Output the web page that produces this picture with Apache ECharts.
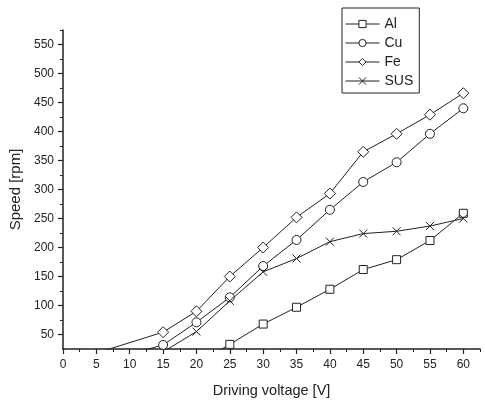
<!DOCTYPE html>
<html>
<head>
<meta charset="utf-8">
<script src="https://cdn.jsdelivr.net/npm/echarts@6/dist/echarts.min.js"></script>
<style>
  html, body { margin: 0; padding: 0; background: #fff; }
  #chart { width: 485px; height: 403px; }
</style>
</head>
<body>
<div id="chart"></div>
<script>
// driving voltage [V] and speed [rpm]
// null = no point at that voltage
const voltage = [0, 5, 10, 15, 20, 25, 30, 35, 40, 45, 50, 55, 60]
const alSpeed = [null, null, null, null, 0, 33, 68, 97, 128, 162, 179, 212, 259]
const cuSpeed = [null, 0, null, 32, 71, 114, 168, 213, 265, 313, 347, 396, 440]
const feSpeed = [0, null, null, 54, 90, 150, 200, 252, 293, 365, 396, 429, 466]
const susSpeed = [null, null, null, 20, 55, 108, 158, 181, 210, 224, 228, 237, 250]

const xMajor = [0, 5, 10, 15, 20, 25, 30, 35, 40, 45, 50, 55, 60]
const xMinor = [2.5, 7.5, 12.5, 17.5, 22.5, 27.5, 32.5, 37.5, 42.5, 47.5, 52.5, 57.5, 62.5]
const yMajor = [50, 100, 150, 200, 250, 300, 350, 400, 450, 500, 550]
const yMinor = [75, 125, 175, 225, 275, 325, 375, 425, 475, 525, 575]

const ink = "#222"
const font = "'Liberation Sans', Arial, sans-serif"

const toPairs = (arr) => voltage.map((v, i) => [v, arr[i]]).filter(p => p[1] !== null)

const makeSeries = (name, arr, symbol, size) => ({
  name: name,
  type: "line",
  data: toPairs(arr),
  symbol: symbol,
  symbolSize: size,
  showAllSymbol: true,
  clip: true,
  lineStyle: { color: ink, width: 1 },
  itemStyle: { color: "#fff", borderColor: ink, borderWidth: 1 },
  emphasis: { disabled: true }
})

const myChart = echarts.init(document.getElementById("chart"))

myChart.setOption({
  animation: false,
  textStyle: { fontFamily: font },
  grid: { left: 63, right: 5, top: 30, bottom: 52 },
  legend: {
    orient: "vertical",
    left: 342,
    top: 8,
    padding: [9, 6, 5, 3],
    itemGap: 5,
    itemWidth: 34,
    itemHeight: 9,
    borderColor: ink,
    borderWidth: 1,
    lineStyle: { width: 1 },
    itemStyle: { borderWidth: 1 },
    textStyle: { fontSize: 14, color: ink, fontFamily: font },
    data: ["Al", "Cu", "Fe", "SUS"]
  },
  xAxis: [
    {
      type: "value",
      min: 0,
      max: 62.5,
      name: "Driving voltage [V]",
      nameLocation: "middle",
      nameGap: 34,
      nameTextStyle: { fontSize: 14.5, color: ink, fontFamily: font },
      axisLine: { onZero: false, lineStyle: { color: ink, width: 1.5 } },
      axisTick: { customValues: xMajor, length: 5, lineStyle: { color: ink, width: 1.2 } },
      axisLabel: { customValues: xMajor, fontSize: 12, color: ink, margin: 10 },
      splitLine: { show: false }
    },
    {
      type: "value",
      position: "bottom",
      min: 0,
      max: 62.5,
      axisLine: { show: false, onZero: false },
      axisTick: { customValues: xMinor, length: 3, lineStyle: { color: ink, width: 1 } },
      axisLabel: { show: false },
      splitLine: { show: false }
    }
  ],
  yAxis: [
    {
      type: "value",
      min: 25,
      max: 575,
      name: "Speed [rpm]",
      nameLocation: "middle",
      nameGap: 39,
      nameTextStyle: { fontSize: 15, color: ink, fontFamily: font },
      axisLine: { show: true, onZero: false, lineStyle: { color: ink, width: 1.5 } },
      axisTick: { show: true, customValues: yMajor, length: 5, lineStyle: { color: ink, width: 1.2 } },
      axisLabel: { customValues: yMajor, fontSize: 12, color: ink, margin: 9 },
      splitLine: { show: false }
    },
    {
      type: "value",
      position: "left",
      min: 25,
      max: 575,
      axisLine: { show: false, onZero: false },
      axisTick: { show: true, customValues: yMinor, length: 3, lineStyle: { color: ink, width: 1 } },
      axisLabel: { show: false },
      splitLine: { show: false }
    }
  ],
  series: [
    makeSeries("Al", alSpeed, "rect", 8),
    makeSeries("Cu", cuSpeed, "circle", 9),
    makeSeries("Fe", feSpeed, "diamond", 11),
    makeSeries("SUS", susSpeed, "path://M0,0L10,10M0,10L10,0", 8)
  ]
})

window.addEventListener("resize", () => {
  myChart.resize()
})
</script>
</body>
</html>
